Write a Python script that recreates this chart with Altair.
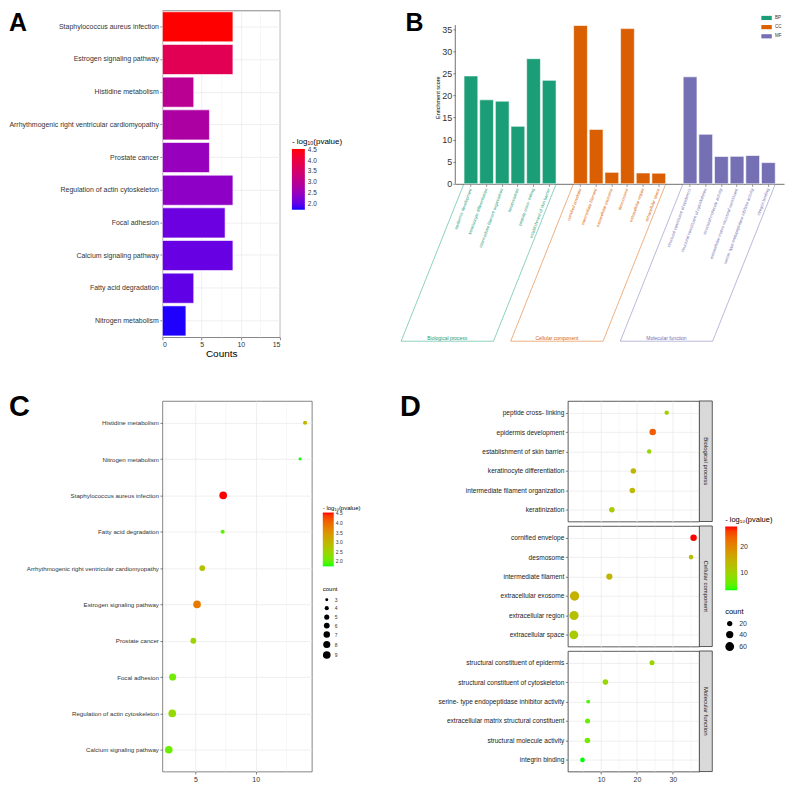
import json
import altair as alt
import pandas as pd

FONT = "Liberation Sans"
LOGP_TITLE = "- log\u2081\u2080(pvalue)"

# ---------------- KEGG pathways (panels A and C)
pathways = ["Staphylococcus aureus infection", "Estrogen signaling pathway", "Histidine metabolism",
            "Arrhythmogenic right ventricular cardiomyopathy", "Prostate cancer",
            "Regulation of actin cytoskeleton", "Focal adhesion", "Calcium signaling pathway",
            "Fatty acid degradation", "Nitrogen metabolism"]
pathway_counts = [9, 9, 4, 6, 6, 9, 8, 9, 4, 3]
pathway_logp = [4.55, 3.8, 3.0, 2.8, 2.5, 2.4, 2.08, 2.05, 2.0, 1.75]
pathway_rich = [7.3, 5.13, 14.1, 5.56, 4.82, 3.07, 3.1, 2.78, 7.25, 13.68]

# ---------------- GO terms (panels B and D)
bp_terms = ["epidermis development", "keratinocyte differentiation", "intermediate filament organization",
            "keratinization", "peptide cross- linking", "establishment of skin barrier"]
bp_scores = [24.4, 19.0, 18.7, 13.0, 28.3, 23.4]
bp_logp = [24.1, 14.3, 13.8, 11.1, 10.6, 9.4]
bp_counts = [31, 22, 22, 22, 13, 13]

cc_terms = ["cornified envelope", "intermediate filament", "extracellular exosome", "desmosome",
            "extracellular region", "extracellular space"]
cc_scores = [35.8, 12.3, 2.6, 35.1, 2.45, 2.4]
cc_logp = [27.8, 14.3, 14.8, 13.1, 12.6, 11.4]
cc_counts = [31, 28, 69, 15, 64, 60]

mf_terms = ["structural constituent of epidermis", "structural constituent of cytoskeleton",
            "structural molecule activity", "extracellular matrix structural constituent",
            "serine- type endopeptidase inhibitor activity", "integrin binding"]
mf_scores = [24.2, 11.2, 6.18, 6.22, 6.4, 4.8]
mf_logp = [9.7, 9.2, 6.5, 5.8, 4.5, 3.3]
mf_counts = [18, 22, 22, 18, 9, 15]

group_names = ["BP", "CC", "MF"]
group_labels = ["Biological process", "Cellular component", "Molecular function"]
group_colors = ["#1B9E77", "#D95F02", "#7570B3"]
panel_letters = ["A", "B", "C", "D"]

a_logp_domain = [1.72, 4.55]
c_logp_domain = [1.74, 4.54]
d_logp_domain = [3.3, 27.8]
b_axis_line = [0, 35.9]


def cond(test, a, b):
    return {"condition": {"test": test, "value": a}, "value": b}


def letter(t, dx, dy, size):
    return alt.Chart(pd.DataFrame({"panel": [t]})).mark_text(
        align="left", baseline="alphabetic", fontSize=size, fontWeight="bold", font=FONT,
        color="black").encode(x=alt.value(dx), y=alt.value(dy), text="panel:N")


kegg = pd.DataFrame({"term": pathways, "count": pathway_counts, "logp": pathway_logp,
                     "rich": pathway_rich})

# ================= Panel A
A_W, A_H = 118, 328
bars_a = alt.Chart(kegg).mark_bar(stroke="white", strokeWidth=0.6).encode(
    y=alt.Y("term:N", sort=pathways, title=None,
            scale=alt.Scale(paddingInner=0.08, paddingOuter=0.04),
            axis=alt.Axis(labelFontSize=7, labelColor="#333", tickColor="#333", tickSize=2.5,
                          tickWidth=0.6, labelPadding=1.5, grid=True, gridColor="#ebebeb",
                          gridWidth=0.8, domain=False, labelLimit=400, bandPosition=0.5)),
    x=alt.X("count:Q", title="Counts", scale=alt.Scale(domain=[0, 15], nice=False),
            axis=alt.Axis(values=[0, 2.5, 5, 7.5, 10, 12.5, 15],
                          labelExpr="datum.value % 5 === 0 ? datum.label : ''",
                          tickOpacity=cond("datum.value % 5 === 0", 1, 0),
                          gridWidth=cond("datum.value % 5 === 0", 0.8, 0.4),
                          gridColor="#ebebeb", tickColor="#333", tickSize=2.5, tickWidth=0.6,
                          labelFontSize=7, labelColor="#333", titleFontSize=10,
                          titleFontWeight="normal", titleColor="black", titlePadding=1,
                          domain=False, labelPadding=1)),
    color=alt.Color("logp:Q", title=LOGP_TITLE,
                    scale=alt.Scale(domain=a_logp_domain, range=["#0000ff", "#ff0000"],
                                    interpolate="lab", clamp=True),
                    legend=alt.Legend(orient="none", legendX=A_W + 12, legendY=128,
                                      direction="vertical",
                                      gradientLength=61, gradientThickness=13,
                                      values=[2.0, 2.5, 3.0, 3.5, 4.0, 4.5], format=".1f",
                                      labelFontSize=6.5, titleFontSize=8, titleFontWeight="normal",
                                      labelColor="#333", titleColor="black", labelOverlap=False,
                                      titlePadding=3, labelOffset=3)),
)
chart_a = alt.layer(bars_a, letter(panel_letters[0], -154, 21, 25)).properties(
    width=A_W, height=A_H, view=alt.ViewBackground(stroke="#666", strokeWidth=0.8))

# ================= Panel B
B_W, B_H = 330, 174
b_domain = bp_terms + [" "] + cc_terms + ["  "] + mf_terms
b_df = pd.DataFrame({"term": bp_terms + cc_terms + mf_terms,
                     "group": ["BP"] * 6 + ["CC"] * 6 + ["MF"] * 6,
                     "score": bp_scores + cc_scores + mf_scores})
b_ydom = [0, 39.2]
b_yscale = alt.Scale(domain=b_ydom, nice=False)
b_yaxis = alt.Axis(values=[0, 5, 10, 15, 20, 25, 30, 35], domain=False, grid=False, tickSize=2.5,
                   tickColor="#4d4d4d", tickWidth=0.6, labelFontSize=9, labelColor="#333",
                   titleFontSize=5.5, titleFontWeight="normal", titleColor="black", titlePadding=1.5,
                   labelPadding=1)
color_tests = [{"test": "indexof(%s, datum.value) >= 0" % json.dumps(t), "value": c}
               for t, c in zip([bp_terms, cc_terms], group_colors[:2])]
b_xaxis = alt.Axis(title=None, values=bp_terms + cc_terms + mf_terms, labelAngle=-70,
                   labelAlign="right", labelBaseline="middle", labelFontSize=4.2,
                   labelColor={"condition": color_tests, "value": group_colors[2]},
                   tickSize=2.5, tickColor="#4d4d4d", tickWidth=0.6, domainColor="#4d4d4d",
                   domainWidth=0.8, labelPadding=2, grid=False, labelLimit=300)

bars = alt.Chart(b_df).mark_bar(stroke="white", strokeWidth=0.6).encode(
    x=alt.X("term:N", scale=alt.Scale(domain=b_domain, paddingInner=0.12, paddingOuter=0.56),
            axis=b_xaxis),
    y=alt.Y("score:Q", scale=b_yscale, axis=b_yaxis, title="Enrichment score"),
    color=alt.Color("group:N", title=None,
                    scale=alt.Scale(domain=group_names, range=group_colors),
                    legend=alt.Legend(orient="top-right", offset=2, labelFontSize=4.5,
                                      symbolType="M-1,-0.4H1V0.4H-1Z", symbolSize=110,
                                      symbolStrokeWidth=0, rowPadding=1.2, labelOffset=3,
                                      labelColor="#333")),
)
yline = alt.Chart(pd.DataFrame({"lo": [b_axis_line[0]], "hi": [b_axis_line[1]]})).mark_rule(
    color="#4d4d4d", strokeWidth=0.8).encode(
    x=alt.value(0),
    y=alt.Y("lo:Q", scale=b_yscale, axis=b_yaxis, title="Enrichment score"),
    y2="hi:Q")

slots = len(b_domain) + 1
slant = 63 / (B_W / slots)          # horizontal slant of the group frames, in slots
depth = -158 / (B_H / b_ydom[1])     # depth of the group frames, in score units
b_layers = [bars, yline]
for terms, lab, col in zip([bp_terms, cc_terms, mf_terms], group_labels, group_colors):
    first = b_domain.index(terms[0]) + 1 - 0.45
    last = b_domain.index(terms[-1]) + 1 + 0.45
    frame = pd.DataFrame({"x": [first, last, first - slant],
                          "y": [0, 0, depth],
                          "x2": [first - slant, last - slant, last - slant],
                          "y2": [depth, depth, depth]})
    xs = alt.Scale(domain=[0, slots], nice=False, zero=False)
    b_layers.append(alt.Chart(frame).mark_rule(color=col, strokeWidth=0.7, opacity=0.7).encode(
        x=alt.X("x:Q", scale=xs, axis=None), x2="x2:Q",
        y=alt.Y("y:Q", scale=b_yscale, axis=b_yaxis, title="Enrichment score"), y2="y2:Q"))
    txt = pd.DataFrame({"x": [(first + last) / 2 - slant], "y": [depth], "label": [lab]})
    b_layers.append(alt.Chart(txt).mark_text(color=col, fontSize=5, baseline="bottom", dy=-0.6,
                                             font=FONT).encode(
        x=alt.X("x:Q", scale=xs, axis=None),
        y=alt.Y("y:Q", scale=b_yscale, axis=b_yaxis, title="Enrichment score"),
        text="label:N"))
b_layers.append(letter(panel_letters[1], -50, 21, 25))

chart_b = alt.layer(*b_layers).resolve_scale(x="independent").properties(
    width=B_W, height=B_H, view=alt.ViewBackground(stroke="transparent"))

# ================= Panel C
C_W, C_H = 150, 372
pts_c = alt.Chart(kegg).mark_circle(opacity=1).encode(
    x=alt.X("rich:Q", title=None, scale=alt.Scale(domain=[2.25, 14.66], nice=False, zero=False),
            axis=alt.Axis(values=[2.5, 5, 7.5, 10, 12.5],
                          labelExpr="datum.value % 5 === 0 ? datum.label : ''",
                          tickOpacity=cond("datum.value % 5 === 0", 1, 0),
                          gridWidth=cond("datum.value % 5 === 0", 0.8, 0.4),
                          gridColor="#ebebeb", tickColor="#333", tickSize=2.5, tickWidth=0.6,
                          labelFontSize=7, labelColor="#333", domain=False, labelPadding=1)),
    y=alt.Y("term:N", sort="-x", title=None, scale=alt.Scale(padding=0.6),
            axis=alt.Axis(labelFontSize=6.2, labelColor="#333", tickColor="#333", tickSize=2.5,
                          tickWidth=0.6, labelPadding=1.5, grid=True, gridColor="#ebebeb",
                          gridWidth=0.8, domain=False, labelLimit=400)),
    color=alt.Color("logp:Q", title=LOGP_TITLE,
                    scale=alt.Scale(domain=c_logp_domain, range=["#00ff00", "#ff0000"],
                                    interpolate="lab", clamp=True),
                    legend=alt.Legend(orient="none", legendX=C_W + 11, legendY=104,
                                      direction="vertical",
                                      gradientLength=54, gradientThickness=11,
                                      values=[2.0, 2.5, 3.0, 3.5, 4.0, 4.5], format=".1f",
                                      labelFontSize=5, titleFontSize=6, titleFontWeight="normal",
                                      labelColor="#333", titleColor="black", labelOverlap=False,
                                      titlePadding=2, labelOffset=2)),
    size=alt.Size("count:Q", title="count", scale=alt.Scale(domain=[3, 9], range=[9, 59]),
                  legend=alt.Legend(orient="none", legendX=C_W + 11, legendY=186,
                                    values=[3, 4, 5, 6, 7, 8, 9],
                                    labelFontSize=5, titleFontSize=6, titleFontWeight="normal",
                                    labelColor="#333", titleColor="black", symbolFillColor="black",
                                    symbolStrokeWidth=0, rowPadding=2.5, labelOffset=4,
                                    symbolOpacity=1)),
)
chart_c = alt.layer(pts_c, letter(panel_letters[2], -154, 15, 29)).properties(
    width=C_W, height=C_H, view=alt.ViewBackground(stroke="#666", strokeWidth=0.8))

# ================= Panel D
D_W, D_H = 132, 121
STRIP = 13
d_df = pd.DataFrame({"term": bp_terms + cc_terms + mf_terms,
                     "group": ["BP"] * 6 + ["CC"] * 6 + ["MF"] * 6,
                     "score": bp_scores + cc_scores + mf_scores,
                     "logp": bp_logp + cc_logp + mf_logp,
                     "count": bp_counts + cc_counts + mf_counts})


def d_panel(g, label, is_first, is_last, with_legend):
    sub = d_df[d_df.group == g]
    x_axis = alt.Axis(values=[5, 10, 15, 20, 25, 30, 35],
                      labelExpr="datum.value % 10 === 0 ? datum.label : ''",
                      labels=is_last, ticks=is_last,
                      tickOpacity=cond("datum.value % 10 === 0", 1, 0),
                      gridWidth=cond("datum.value % 10 === 0", 0.8, 0.4),
                      gridColor="#ebebeb", tickColor="#333", tickSize=2.5, tickWidth=0.6,
                      labelFontSize=7, labelColor="#333", domain=False, labelPadding=1)
    if with_legend:
        c_leg = alt.Legend(orient="none", legendX=158, legendY=-10, direction="vertical",
                           gradientLength=64, gradientThickness=12, values=[10, 20],
                           labelFontSize=7, titleFontSize=7.5, titleFontWeight="normal",
                           labelColor="#333", titleColor="black", titlePadding=3, labelOffset=3)
        s_leg = alt.Legend(orient="none", legendX=158, legendY=82, values=[20, 40, 60],
                           labelFontSize=7, titleFontSize=7.5, titleFontWeight="normal",
                           labelColor="#333", titleColor="black", symbolFillColor="black",
                           symbolStrokeWidth=0, rowPadding=3.5, labelOffset=5, symbolOpacity=1)
    else:
        c_leg = None
        s_leg = None
    pts = alt.Chart(sub).mark_circle(opacity=1).encode(
        x=alt.X("score:Q", title=None, scale=alt.Scale(domain=[0.72, 37.4], nice=False, zero=False),
                axis=x_axis),
        y=alt.Y("term:N", sort="-x", title=None, scale=alt.Scale(padding=0.6),
                axis=alt.Axis(labelFontSize=6.6, labelColor="#222", tickColor="#333", tickSize=2.5,
                              tickWidth=0.6, labelPadding=1.5, grid=True, gridColor="#ebebeb",
                              gridWidth=0.8, domain=False, labelLimit=400)),
        color=alt.Color("logp:Q", title=LOGP_TITLE,
                        scale=alt.Scale(domain=d_logp_domain, range=["#00ff00", "#ff0000"],
                                        interpolate="lab", clamp=True),
                        legend=c_leg),
        size=alt.Size("count:Q", title="count", scale=alt.Scale(domain=[0, 70], range=[3.2, 91]),
                      legend=s_leg),
    )
    strip_df = pd.DataFrame({"panel": [label]})
    strip = alt.Chart(strip_df).mark_rect(fill="#d9d9d9", stroke="#333", strokeWidth=0.8).encode(
        x=alt.value(D_W), x2=alt.value(D_W + STRIP), y=alt.value(0), y2=alt.value(D_H))
    strip_txt = alt.Chart(strip_df).mark_text(angle=90, fontSize=6, color="#1a1a1a", font=FONT).encode(
        x=alt.value(D_W + STRIP / 2), y=alt.value(D_H / 2), text="panel:N")
    layers = [pts, strip, strip_txt]
    if is_first:
        layers.append(letter(panel_letters[3], -168.6, 15, 29))
    return alt.layer(*layers).properties(
        width=D_W, height=D_H, view=alt.ViewBackground(stroke="#333", strokeWidth=0.8))


chart_d = alt.vconcat(
    d_panel("BP", group_labels[0], True, False, False),
    d_panel("CC", group_labels[1], False, False, True),
    d_panel("MF", group_labels[2], False, True, False),
    spacing=4.5, bounds="flush",
).resolve_scale(color="independent", size="independent")

row1 = alt.hconcat(chart_a, chart_b, spacing=56).resolve_scale(color="independent", size="independent")
row2 = alt.hconcat(chart_c, chart_d, spacing=38).resolve_scale(color="independent", size="independent")

chart = alt.vconcat(row1, row2, spacing=33).resolve_scale(
    color="independent", size="independent").properties(padding=0).configure(
    font=FONT).configure_view(stroke="transparent").configure_axis(
    labelFont=FONT, titleFont=FONT).configure_legend(
    labelFont=FONT, titleFont=FONT)

chart.save("out.html", embed_options={"renderer": "svg", "actions": False})
